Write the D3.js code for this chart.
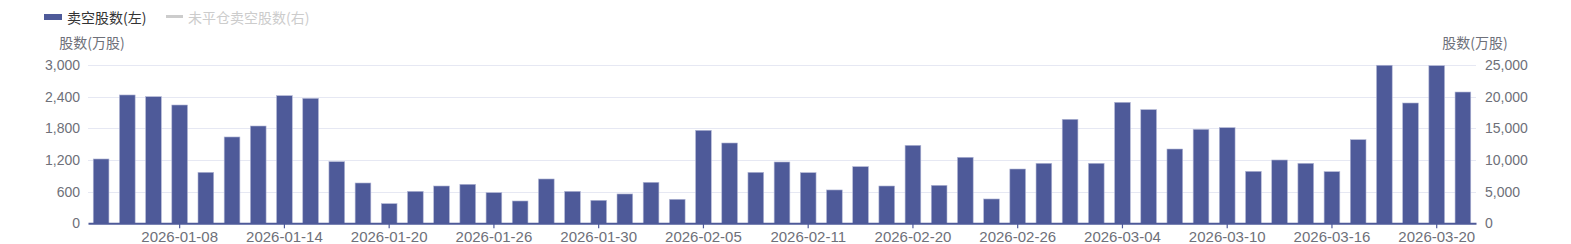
<!DOCTYPE html>
<html><head><meta charset="utf-8">
<script src="https://cdn.jsdelivr.net/npm/d3@7"></script>
<style>
html,body{margin:0;padding:0;background:#fff;}
svg{display:block;font-family:"Microsoft YaHei","Noto Sans CJK SC","Noto Sans",sans-serif;}
</style></head>
<body><svg id="c" width="1571" height="244"></svg>
<script>
const dates = ["2026-01-05","2026-01-06","2026-01-07","2026-01-08","2026-01-09","2026-01-12","2026-01-13","2026-01-14","2026-01-15","2026-01-16",
"2026-01-19","2026-01-20","2026-01-21","2026-01-22","2026-01-23","2026-01-26","2026-01-27","2026-01-28","2026-01-29","2026-01-30",
"2026-02-02","2026-02-03","2026-02-04","2026-02-05","2026-02-06","2026-02-09","2026-02-10","2026-02-11","2026-02-12","2026-02-13",
"2026-02-16","2026-02-20","2026-02-23","2026-02-24","2026-02-25","2026-02-26","2026-02-27","2026-03-02","2026-03-03","2026-03-04",
"2026-03-05","2026-03-06","2026-03-09","2026-03-10","2026-03-11","2026-03-12","2026-03-13","2026-03-16","2026-03-17","2026-03-18",
"2026-03-19","2026-03-20","2026-03-23"];
const shortShares = [1219,2432,2400,2242,966,1636,1844,2419,2368,1168,
764,373,606,707,739,581,423,840,606,436,
556,777,455,1762,1522,966,1162,960,632,1074,
707,1478,720,1251,461,1029,1137,1971,1137,2293,
2154,1408,1781,1813,985,1200,1137,979,1585,2995,
2280,2987,2488];
const leftTicks = [0,600,1200,1800,2400,3000];
const rightTicks = [0,5000,10000,15000,20000,25000];
const legendNames = ["卖空股数(左)","未平仓卖空股数(右)"];
const axisName = "股数(万股)";

const svg = d3.select("#c");
const L = 88, R = 1476, T = 65, B = 223.3;
const x = d3.scaleBand().domain(dates).range([L, R]).paddingInner(0.4).paddingOuter(0.2);
const yL = d3.scaleLinear().domain([0, 3000]).range([B, T]);
const yR = d3.scaleLinear().domain([0, 25000]).range([B, T]);
const labelColor = "#6e7079";
const barColor = "#4e5a99";
const fmt = d3.format(",");

// grid
svg.append("g").selectAll("line").data(leftTicks.filter(d => d > 0)).join("line")
  .attr("x1", L).attr("x2", R).attr("y1", d => Math.round(yL(d)) + 0.5).attr("y2", d => Math.round(yL(d)) + 0.5)
  .attr("stroke", "#e6e8f3").attr("stroke-width", 1);

// left axis labels
const gl = svg.append("g").attr("transform", `translate(${L},0)`)
  .call(d3.axisLeft(yL).tickValues(leftTicks).tickFormat(fmt).tickSize(0).tickPadding(8));
gl.select(".domain").remove();
gl.selectAll("text").attr("fill", labelColor).attr("font-size", 14).attr("font-family", null);

const gr = svg.append("g").attr("transform", `translate(${R},0)`)
  .call(d3.axisRight(yR).tickValues(rightTicks).tickFormat(fmt).tickSize(0).tickPadding(9));
gr.select(".domain").remove();
gr.selectAll("text").attr("fill", labelColor).attr("font-size", 14).attr("font-family", null);

// bars
svg.append("g").selectAll("rect").data(dates).join("rect")
  .attr("x", d => x(d)).attr("width", x.bandwidth())
  .attr("y", (d, i) => yL(shortShares[i])).attr("height", (d, i) => B - yL(shortShares[i]))
  .attr("fill", barColor).attr("stroke", "#b3b8d6").attr("stroke-width", 0.6);

// x axis
const shown = dates.filter((d, i) => i % 4 === 3);
const gx = svg.append("g").attr("transform", `translate(0,${B})`)
  .call(d3.axisBottom(x).tickValues(shown).tickSize(5).tickPadding(3).tickSizeOuter(0));
gx.select(".domain").attr("stroke", barColor).attr("stroke-width", 2);
gx.selectAll(".tick line").attr("stroke", barColor).attr("stroke-width", 1.2);
gx.selectAll("text").attr("fill", labelColor).attr("font-size", 15).attr("font-family", null);

// axis names
svg.append("text").attr("x", 92).attr("y", 48).attr("text-anchor", "middle")
  .attr("fill", labelColor).attr("font-size", 14).text(axisName);
svg.append("text").attr("x", 1475).attr("y", 48).attr("text-anchor", "middle")
  .attr("fill", labelColor).attr("font-size", 14).text(axisName);

// legend
const lg = svg.append("g");
lg.append("rect").attr("x", 44).attr("y", 14).attr("width", 18).attr("height", 6).attr("fill", barColor);
lg.append("text").attr("x", 67).attr("y", 22.5).attr("fill", "#333").attr("font-size", 14).text(legendNames[0]);
lg.append("line").attr("x1", 166).attr("x2", 183).attr("y1", 16.5).attr("y2", 16.5).attr("stroke", "#ccc").attr("stroke-width", 3);
lg.append("text").attr("x", 188).attr("y", 22.5).attr("fill", "#ccc").attr("font-size", 14).text(legendNames[1]);
</script></body></html>
